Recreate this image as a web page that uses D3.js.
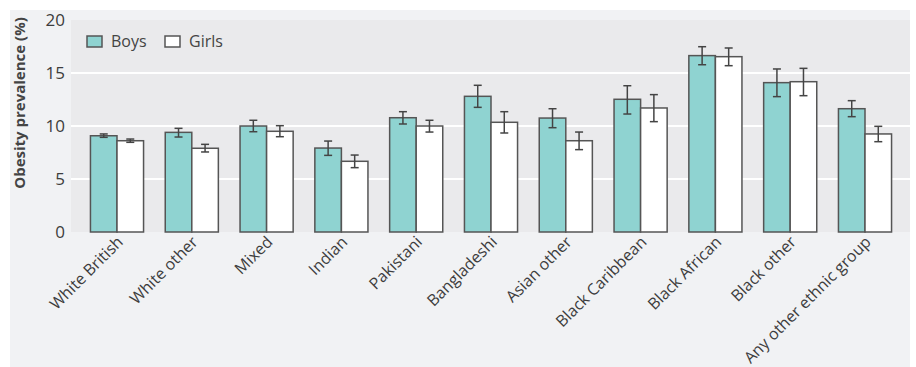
<!DOCTYPE html>
<html>
<head>
<meta charset="utf-8">
<script src="https://cdn.jsdelivr.net/npm/d3@7"></script>
<style>
  body { margin: 0; background: #fff; }
  text { font-family: "Open Sans", "Noto Sans", sans-serif; }
</style>
</head>
<body>
<div id="chart"></div>
<script>
(() => {
  const width = 916, height = 367;

  // ethnic groups
  const categories = ["White British", "White other", "Mixed", "Indian", "Pakistani",
    "Bangladeshi", "Asian other", "Black Caribbean", "Black African", "Black other",
    "Any other ethnic group"];

  // obesity prevalence (%) with 95% CI
  const boys     = [9.08, 9.4, 10.0, 7.92, 10.78, 12.8, 10.75, 12.52, 16.64, 14.09, 11.63];
  const boysLo   = [8.93, 8.96, 9.46, 7.23, 10.19, 11.76, 9.84, 11.13, 15.78, 12.77, 10.88];
  const boysHi   = [9.25, 9.78, 10.54, 8.58, 11.35, 13.84, 11.63, 13.8, 17.48, 15.38, 12.39];
  const girls    = [8.61, 7.9, 9.5, 6.67, 10.0, 10.35, 8.61, 11.7, 16.54, 14.18, 9.25];
  const girlsLo  = [8.46, 7.55, 8.99, 6.07, 9.43, 9.34, 7.77, 10.41, 15.69, 12.86, 8.52];
  const girlsHi  = [8.77, 8.27, 10.03, 7.26, 10.54, 11.35, 9.43, 12.96, 17.36, 15.44, 9.97];

  const yTicks = [0, 5, 10, 15, 20];
  const seriesNames = ["Boys", "Girls"];
  const seriesColors = ["#8fd3d1", "#ffffff"];

  const plot = { left: 71, right: 910, top: 20, bottom: 232 };

  const svg = d3.select("#chart").append("svg")
    .attr("width", width)
    .attr("height", height);

  // outer panel
  svg.append("rect")
    .attr("x", 10).attr("y", 10)
    .attr("width", 900).attr("height", height - 10)
    .attr("fill", "#f1f2f4");

  // plot background
  svg.append("rect")
    .attr("x", plot.left).attr("y", plot.top)
    .attr("width", plot.right - plot.left).attr("height", plot.bottom - plot.top)
    .attr("fill", "#eaeaec");

  const x = d3.scaleBand()
    .domain(categories)
    .range([79.6, 902.4])
    .paddingInner(0.29)
    .paddingOuter(0.145);

  const xs = d3.scaleBand()
    .domain(seriesNames)
    .range([0, x.bandwidth()]);

  const y = d3.scaleLinear()
    .domain([0, 20])
    .range([plot.bottom, plot.top]);

  // gridlines
  svg.append("g")
    .selectAll("line")
    .data(yTicks.filter(d => d > 0 && d < 20))
    .join("line")
    .attr("x1", plot.left).attr("x2", plot.right)
    .attr("y1", d => y(d)).attr("y2", d => y(d))
    .attr("stroke", "#fff")
    .attr("stroke-width", 2);

  // y axis
  const yAxis = svg.append("g")
    .attr("transform", `translate(${plot.left},0)`)
    .call(d3.axisLeft(y).tickValues(yTicks).tickSize(0).tickPadding(6));
  yAxis.select(".domain").remove();
  yAxis.selectAll("text")
    .attr("font-size", 17)
    .attr("fill", "#3d3d3d")
    .style("font-family", "'Open Sans', sans-serif");

  svg.append("text")
    .attr("transform", "translate(25,103) rotate(-90)")
    .attr("text-anchor", "middle")
    .attr("font-size", 15)
    .attr("font-weight", "bold")
    .attr("fill", "#444")
    .text("Obesity prevalence (%)");

  // x axis labels
  const xAxis = svg.append("g")
    .attr("transform", `translate(0,${plot.bottom})`)
    .call(d3.axisBottom(x).tickSize(0).tickPadding(0));
  xAxis.select(".domain").remove();
  xAxis.selectAll("text")
    .attr("font-size", 16)
    .attr("fill", "#3d3d3d")
    .attr("text-anchor", "end")
    .attr("dy", 0)
    .attr("transform", "translate(7,11) rotate(-45)")
    .style("font-family", "'Open Sans', sans-serif");

  const series = [
    { name: "Boys", vals: boys, lo: boysLo, hi: boysHi, color: seriesColors[0] },
    { name: "Girls", vals: girls, lo: girlsLo, hi: girlsHi, color: seriesColors[1] }
  ];

  series.forEach(s => {
    const g = svg.append("g");
    g.selectAll("rect")
      .data(categories)
      .join("rect")
      .attr("x", d => x(d) + xs(s.name))
      .attr("y", (d, i) => y(s.vals[i]))
      .attr("width", xs.bandwidth())
      .attr("height", (d, i) => y(0) - y(s.vals[i]))
      .attr("fill", s.color)
      .attr("stroke", "#555")
      .attr("stroke-width", 1.5);

    const eb = svg.append("g")
      .attr("stroke", "#444")
      .attr("stroke-width", 1.5);
    categories.forEach((c, i) => {
      const cx = x(c) + xs(s.name) + xs.bandwidth() / 2;
      eb.append("line").attr("x1", cx).attr("x2", cx)
        .attr("y1", y(s.lo[i])).attr("y2", y(s.hi[i]));
      [s.lo[i], s.hi[i]].forEach(v => {
        eb.append("line").attr("x1", cx - 4).attr("x2", cx + 4)
          .attr("y1", y(v)).attr("y2", y(v));
      });
    });
  });

  // legend
  const legend = svg.append("g");
  const legendX = [87, 165];
  series.forEach((s, i) => {
    legend.append("rect")
      .attr("x", legendX[i]).attr("y", 36)
      .attr("width", 15).attr("height", 11)
      .attr("fill", s.color)
      .attr("stroke", "#555")
      .attr("stroke-width", 1.5);
    legend.append("text")
      .attr("x", legendX[i] + 24).attr("y", 47)
      .attr("font-size", 16)
      .attr("fill", "#444")
      .text(s.name);
  });
})();
</script>
</body>
</html>
